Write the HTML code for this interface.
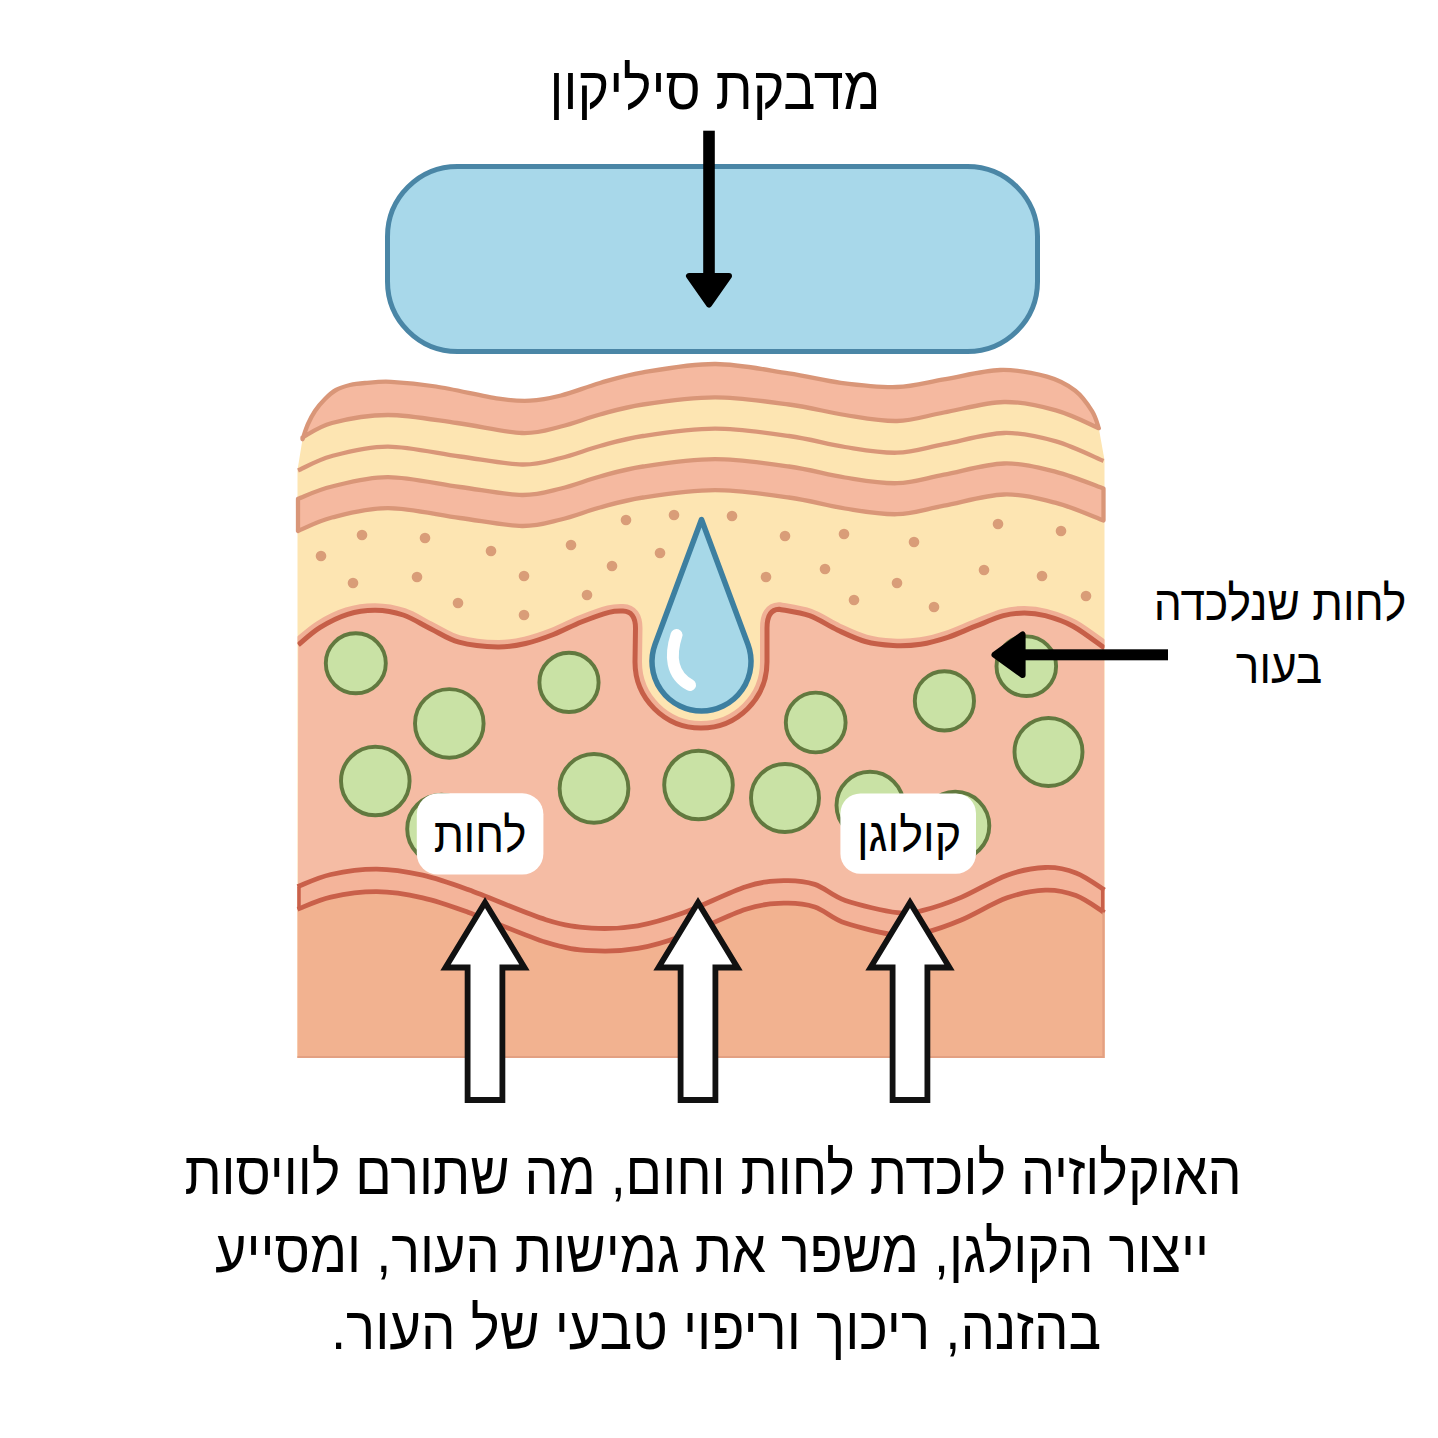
<!DOCTYPE html>
<html><head><meta charset="utf-8"><style>
html,body{margin:0;padding:0;background:#fff;width:1438px;height:1438px;overflow:hidden}
body{position:relative;font-family:"Liberation Sans",sans-serif;color:#000}
div{white-space:nowrap}
</style></head><body>
<svg width="1438" height="1438" viewBox="0 0 1438 1438" style="position:absolute;left:0;top:0"><defs><clipPath id="blk"><rect x="297.5" y="300" width="807.0" height="758"/></clipPath></defs>
<path d="M302.5,439.3 C303.4,436.8 305.9,428.7 308.0,424.0 C310.1,419.3 312.2,415.2 315.0,411.0 C317.8,406.8 321.5,402.5 325.0,399.0 C328.5,395.5 331.8,392.3 336.0,390.0 C340.2,387.7 345.2,386.2 350.0,385.0 C354.8,383.8 358.2,383.5 365.0,383.0 C371.8,382.5 379.2,381.2 391.0,381.8 C402.8,382.4 418.1,383.7 436.0,386.5 C453.9,389.3 482.9,396.2 498.6,398.6 C514.3,401.0 519.6,401.2 530.0,400.7 C540.4,400.2 549.3,398.4 561.0,395.5 C572.7,392.6 586.3,386.9 600.0,383.0 C613.7,379.1 623.7,375.5 643.0,372.3 C662.3,369.1 691.3,363.8 715.6,364.0 C739.9,364.2 767.7,370.3 788.6,373.4 C809.5,376.5 822.7,380.5 840.8,382.8 C858.9,385.1 879.8,387.6 897.0,387.0 C914.2,386.4 926.7,382.2 943.9,379.4 C961.1,376.6 983.0,370.5 1000.2,370.0 C1017.4,369.5 1034.5,373.2 1047.0,376.6 C1059.5,380.1 1067.8,384.9 1075.3,390.7 C1082.8,396.5 1088.3,405.1 1092.2,411.3 C1096.1,417.6 1097.7,425.4 1098.8,428.2 L1104.5,460 L1104.5,1058 L297.5,1058 L297.5,470 Z" fill="#fde5b2"/>
<path d="M302.5,439.3 C303.4,436.8 305.9,428.7 308.0,424.0 C310.1,419.3 312.2,415.2 315.0,411.0 C317.8,406.8 321.5,402.5 325.0,399.0 C328.5,395.5 331.8,392.3 336.0,390.0 C340.2,387.7 345.2,386.2 350.0,385.0 C354.8,383.8 358.2,383.5 365.0,383.0 C371.8,382.5 379.2,381.2 391.0,381.8 C402.8,382.4 418.1,383.7 436.0,386.5 C453.9,389.3 482.9,396.2 498.6,398.6 C514.3,401.0 519.6,401.2 530.0,400.7 C540.4,400.2 549.3,398.4 561.0,395.5 C572.7,392.6 586.3,386.9 600.0,383.0 C613.7,379.1 623.7,375.5 643.0,372.3 C662.3,369.1 691.3,363.8 715.6,364.0 C739.9,364.2 767.7,370.3 788.6,373.4 C809.5,376.5 822.7,380.5 840.8,382.8 C858.9,385.1 879.8,387.6 897.0,387.0 C914.2,386.4 926.7,382.2 943.9,379.4 C961.1,376.6 983.0,370.5 1000.2,370.0 C1017.4,369.5 1034.5,373.2 1047.0,376.6 C1059.5,380.1 1067.8,384.9 1075.3,390.7 C1082.8,396.5 1088.3,405.1 1092.2,411.3 C1096.1,417.6 1097.7,425.4 1098.8,428.2 C1091.7,425.2 1071.8,414.8 1056.0,410.4 C1040.2,406.0 1022.7,401.6 1004.0,402.0 C985.3,402.4 961.8,409.3 944.0,412.5 C926.2,415.7 913.5,420.6 897.0,421.0 C880.5,421.4 863.0,417.8 845.0,415.0 C827.0,412.2 810.7,407.4 789.0,404.5 C767.3,401.6 739.3,397.4 715.0,397.4 C690.7,397.4 662.2,401.6 643.0,404.5 C623.8,407.4 613.7,410.8 600.0,414.5 C586.3,418.2 574.0,423.4 561.0,426.5 C548.0,429.6 539.3,433.6 522.0,433.0 C504.7,432.4 479.3,426.0 457.0,423.0 C434.7,420.0 408.8,415.0 388.0,415.0 C367.2,415.0 346.2,419.2 332.0,423.0 C317.8,426.8 307.4,435.1 302.5,437.5 Z" fill="#f5b9a0" stroke="#d99678" stroke-width="4.3" stroke-linejoin="round"/>
<path d="M298.0,470.5 C303.7,468.1 317.0,460.0 332.0,456.0 C347.0,452.0 366.7,446.5 388.0,446.6 C409.3,446.7 437.7,453.5 460.0,456.5 C482.3,459.5 505.2,464.2 522.0,464.5 C538.8,464.8 548.0,461.1 561.0,458.0 C574.0,454.9 586.3,449.7 600.0,446.0 C613.7,442.3 623.8,438.9 643.0,436.0 C662.2,433.1 690.7,428.7 715.0,428.7 C739.3,428.7 767.3,432.9 789.0,436.0 C810.7,439.1 827.0,444.2 845.0,447.0 C863.0,449.8 880.5,453.2 897.0,452.7 C913.5,452.2 926.2,447.5 944.0,444.2 C961.8,440.9 985.3,433.5 1004.0,433.0 C1022.7,432.5 1039.4,436.7 1056.0,441.4 C1072.6,446.1 1095.6,457.7 1103.5,461.0" fill="none" stroke="#d99678" stroke-width="4.3"/>
<path d="M298.0,498.7 C303.7,496.7 317.0,490.1 332.0,486.5 C347.0,482.9 366.7,477.0 388.0,477.1 C409.3,477.2 437.7,484.0 460.0,487.0 C482.3,490.0 505.2,494.8 522.0,495.0 C538.8,495.2 548.0,491.6 561.0,488.5 C574.0,485.4 586.3,480.2 600.0,476.5 C613.7,472.8 623.8,469.4 643.0,466.5 C662.2,463.6 690.7,459.2 715.0,459.2 C739.3,459.2 767.3,463.4 789.0,466.5 C810.7,469.6 827.0,474.7 845.0,477.5 C863.0,480.3 880.5,483.7 897.0,483.2 C913.5,482.7 926.2,478.0 944.0,474.7 C961.8,471.4 985.3,464.0 1004.0,463.5 C1022.7,463.0 1039.4,467.7 1056.0,471.9 C1072.6,476.1 1095.6,485.7 1103.5,488.5 L1103.5,520.5 C1095.6,517.6 1072.6,507.2 1056.0,502.9 C1039.4,498.6 1022.7,494.0 1004.0,494.5 C985.3,495.0 961.8,502.4 944.0,505.7 C926.2,509.0 913.5,513.7 897.0,514.2 C880.5,514.7 863.0,511.3 845.0,508.5 C827.0,505.7 810.7,500.6 789.0,497.5 C767.3,494.4 739.3,490.2 715.0,490.2 C690.7,490.2 662.2,494.6 643.0,497.5 C623.8,500.4 613.7,503.8 600.0,507.5 C586.3,511.2 574.0,516.4 561.0,519.5 C548.0,522.6 538.8,526.2 522.0,526.0 C505.2,525.8 482.3,521.0 460.0,518.0 C437.7,515.0 409.3,508.2 388.0,508.1 C366.7,508.0 347.0,513.7 332.0,517.5 C317.0,521.3 303.7,528.8 298.0,531.0 Z" fill="#f5b9a0" stroke="#d99678" stroke-width="4.3" stroke-linejoin="round"/>
<g fill="#d99d78"><circle cx="362" cy="535" r="5.3"/><circle cx="425" cy="538" r="5.3"/><circle cx="491" cy="551" r="5.3"/><circle cx="571" cy="545" r="5.3"/><circle cx="626" cy="520" r="5.3"/><circle cx="674" cy="515" r="5.3"/><circle cx="732" cy="516" r="5.3"/><circle cx="785" cy="536" r="5.3"/><circle cx="844" cy="534" r="5.3"/><circle cx="914" cy="542" r="5.3"/><circle cx="998" cy="524" r="5.3"/><circle cx="1061" cy="531" r="5.3"/><circle cx="321" cy="556" r="5.3"/><circle cx="353" cy="583" r="5.3"/><circle cx="417" cy="577" r="5.3"/><circle cx="458" cy="603" r="5.3"/><circle cx="524" cy="576" r="5.3"/><circle cx="524" cy="615" r="5.3"/><circle cx="612" cy="566" r="5.3"/><circle cx="587" cy="595" r="5.3"/><circle cx="660" cy="553" r="5.3"/><circle cx="766" cy="577" r="5.3"/><circle cx="825" cy="569" r="5.3"/><circle cx="897" cy="583" r="5.3"/><circle cx="984" cy="570" r="5.3"/><circle cx="1042" cy="576" r="5.3"/><circle cx="854" cy="600" r="5.3"/><circle cx="934" cy="607" r="5.3"/><circle cx="1086" cy="596" r="5.3"/></g>
<g clip-path="url(#blk)"><path d="M298.2,644.9 C301.8,642.0 311.6,632.7 319.8,627.6 C328.0,622.5 338.3,617.2 347.6,614.3 C356.9,611.4 366.1,610.1 375.4,610.2 C384.7,610.3 393.9,611.9 403.2,615.0 C412.5,618.1 421.7,624.5 431.0,629.0 C440.3,633.5 447.8,639.2 458.9,642.2 C470.0,645.2 486.7,646.8 497.8,647.0 C508.9,647.2 516.3,645.6 525.6,643.5 C534.9,641.4 544.1,638.1 553.4,634.5 C562.7,630.9 572.0,625.7 581.3,622.0 C590.6,618.3 602.0,614.1 609.0,612.3 C616.0,610.4 620.7,611.1 623.0,610.9 C631,611 635.5,617 635.5,628 L635,662 A66,66 0 0 0 767,662 L767,628 C767,616 771,609.5 779,609.2 C784.1,610.3 799.8,612.2 809.5,615.7 C819.2,619.2 828.1,625.7 837.4,630.0 C846.7,634.3 855.9,638.9 865.2,641.5 C874.5,644.1 883.7,645.0 893.0,645.5 C902.3,646.0 911.7,645.6 920.8,644.2 C929.9,642.8 938.7,640.3 947.8,637.3 C956.9,634.3 966.3,629.8 975.6,626.2 C984.9,622.6 995.3,617.9 1003.4,615.7 C1011.5,613.5 1017.3,613.0 1024.3,613.0 C1031.3,613.0 1037.1,613.5 1045.2,615.7 C1053.3,617.9 1063.1,620.8 1073.0,626.2 C1082.9,631.6 1099.2,644.4 1104.5,648.0" fill="none" stroke="#f0b096" stroke-width="14"/>
<path d="M298.2,644.9 C301.8,642.0 311.6,632.7 319.8,627.6 C328.0,622.5 338.3,617.2 347.6,614.3 C356.9,611.4 366.1,610.1 375.4,610.2 C384.7,610.3 393.9,611.9 403.2,615.0 C412.5,618.1 421.7,624.5 431.0,629.0 C440.3,633.5 447.8,639.2 458.9,642.2 C470.0,645.2 486.7,646.8 497.8,647.0 C508.9,647.2 516.3,645.6 525.6,643.5 C534.9,641.4 544.1,638.1 553.4,634.5 C562.7,630.9 572.0,625.7 581.3,622.0 C590.6,618.3 602.0,614.1 609.0,612.3 C616.0,610.4 620.7,611.1 623.0,610.9 C631,611 635.5,617 635.5,628 L635,662 A66,66 0 0 0 767,662 L767,628 C767,616 771,609.5 779,609.2 C784.1,610.3 799.8,612.2 809.5,615.7 C819.2,619.2 828.1,625.7 837.4,630.0 C846.7,634.3 855.9,638.9 865.2,641.5 C874.5,644.1 883.7,645.0 893.0,645.5 C902.3,646.0 911.7,645.6 920.8,644.2 C929.9,642.8 938.7,640.3 947.8,637.3 C956.9,634.3 966.3,629.8 975.6,626.2 C984.9,622.6 995.3,617.9 1003.4,615.7 C1011.5,613.5 1017.3,613.0 1024.3,613.0 C1031.3,613.0 1037.1,613.5 1045.2,615.7 C1053.3,617.9 1063.1,620.8 1073.0,626.2 C1082.9,631.6 1099.2,644.4 1104.5,648.0 L1104.5,1058 L297.5,1058 Z" fill="#f5bca4"/>
<path d="M298.2,644.9 C301.8,642.0 311.6,632.7 319.8,627.6 C328.0,622.5 338.3,617.2 347.6,614.3 C356.9,611.4 366.1,610.1 375.4,610.2 C384.7,610.3 393.9,611.9 403.2,615.0 C412.5,618.1 421.7,624.5 431.0,629.0 C440.3,633.5 447.8,639.2 458.9,642.2 C470.0,645.2 486.7,646.8 497.8,647.0 C508.9,647.2 516.3,645.6 525.6,643.5 C534.9,641.4 544.1,638.1 553.4,634.5 C562.7,630.9 572.0,625.7 581.3,622.0 C590.6,618.3 602.0,614.1 609.0,612.3 C616.0,610.4 620.7,611.1 623.0,610.9 C631,611 635.5,617 635.5,628 L635,662 A66,66 0 0 0 767,662 L767,628 C767,616 771,609.5 779,609.2 C784.1,610.3 799.8,612.2 809.5,615.7 C819.2,619.2 828.1,625.7 837.4,630.0 C846.7,634.3 855.9,638.9 865.2,641.5 C874.5,644.1 883.7,645.0 893.0,645.5 C902.3,646.0 911.7,645.6 920.8,644.2 C929.9,642.8 938.7,640.3 947.8,637.3 C956.9,634.3 966.3,629.8 975.6,626.2 C984.9,622.6 995.3,617.9 1003.4,615.7 C1011.5,613.5 1017.3,613.0 1024.3,613.0 C1031.3,613.0 1037.1,613.5 1045.2,615.7 C1053.3,617.9 1063.1,620.8 1073.0,626.2 C1082.9,631.6 1099.2,644.4 1104.5,648.0" fill="none" stroke="#c65f48" stroke-width="5"/></g>
<g fill="#c9e2a5" stroke="#62793f" stroke-width="3.9"><circle cx="355.8" cy="663.3" r="30"/><circle cx="449.3" cy="723.4" r="34.3"/><circle cx="569" cy="682.4" r="29.6"/><circle cx="375.3" cy="781" r="34.3"/><circle cx="594" cy="788.4" r="34.4"/><circle cx="441.5" cy="829" r="34.3"/><circle cx="698.5" cy="785" r="34.3"/><circle cx="785" cy="798" r="34"/><circle cx="815.7" cy="722.5" r="29.9"/><circle cx="944.4" cy="700.9" r="29.6"/><circle cx="1026.3" cy="666.2" r="29.8"/><circle cx="1048.5" cy="752" r="34"/><circle cx="870" cy="805.2" r="33.5"/><circle cx="955.3" cy="825.8" r="34"/></g>
<path d="M297.5,886.7 C303.1,884.7 317.7,877.4 330.9,874.5 C344.1,871.6 361.5,869.0 376.8,869.1 C392.1,869.2 407.4,871.8 422.7,875.2 C438.0,878.7 448.1,882.4 468.6,889.8 C489.1,897.2 525.4,913.3 545.9,919.7 C566.4,926.1 576.5,927.1 591.8,928.1 C607.1,929.1 622.4,928.3 637.7,925.8 C653.0,923.2 665.6,919.3 683.6,912.8 C701.6,906.3 729.1,892.1 745.9,886.7 C762.6,881.3 772.6,881.0 784.1,880.6 C795.6,880.2 804.6,881.1 814.8,884.4 C825.0,887.7 831.5,895.8 845.3,900.5 C859.1,905.2 884.4,911.1 897.4,912.7 C910.4,914.4 912.4,913.0 923.0,910.4 C933.6,907.8 947.2,903.3 961.2,897.4 C975.2,891.5 993.1,880.2 1007.1,875.2 C1021.1,870.2 1033.8,867.9 1045.3,867.5 C1056.8,867.1 1066.1,869.1 1076.0,872.9 C1085.9,876.6 1099.8,887.1 1104.5,890.0 L1104.5,912.6 C1099.8,909.8 1085.9,899.2 1076.0,895.5 C1066.1,891.8 1056.8,889.7 1045.3,890.1 C1033.8,890.5 1021.1,892.8 1007.1,897.8 C993.1,902.8 975.2,914.1 961.2,920.0 C947.2,925.9 933.6,930.5 923.0,933.0 C912.4,935.5 910.4,937.0 897.4,935.3 C884.4,933.7 859.1,927.8 845.3,923.1 C831.5,918.4 825.0,910.3 814.8,907.0 C804.6,903.7 795.6,902.8 784.1,903.2 C772.6,903.6 762.6,903.9 745.9,909.3 C729.1,914.7 701.6,928.9 683.6,935.4 C665.6,941.9 653.0,945.8 637.7,948.4 C622.4,951.0 607.1,951.7 591.8,950.7 C576.5,949.7 566.4,948.7 545.9,942.3 C525.4,935.9 489.1,919.8 468.6,912.4 C448.1,905.0 438.0,901.2 422.7,897.8 C407.4,894.4 392.1,891.8 376.8,891.7 C361.5,891.6 344.1,894.2 330.9,897.1 C317.7,900.0 303.1,907.3 297.5,909.3 Z" fill="#f4b49a"/>
<path d="M297.5,909.3 C303.1,907.3 317.7,900.0 330.9,897.1 C344.1,894.2 361.5,891.6 376.8,891.7 C392.1,891.8 407.4,894.4 422.7,897.8 C438.0,901.2 448.1,905.0 468.6,912.4 C489.1,919.8 525.4,935.9 545.9,942.3 C566.4,948.7 576.5,949.7 591.8,950.7 C607.1,951.7 622.4,951.0 637.7,948.4 C653.0,945.8 665.6,941.9 683.6,935.4 C701.6,928.9 729.1,914.7 745.9,909.3 C762.6,903.9 772.6,903.6 784.1,903.2 C795.6,902.8 804.6,903.7 814.8,907.0 C825.0,910.3 831.5,918.4 845.3,923.1 C859.1,927.8 884.4,933.7 897.4,935.3 C910.4,937.0 912.4,935.5 923.0,933.0 C933.6,930.5 947.2,925.9 961.2,920.0 C975.2,914.1 993.1,902.8 1007.1,897.8 C1021.1,892.8 1033.8,890.5 1045.3,890.1 C1056.8,889.7 1066.1,891.8 1076.0,895.5 C1085.9,899.2 1099.8,909.8 1104.5,912.6 L1104.5,1058 L297.5,1058 Z" fill="#f2b290"/>
<path d="M297.5,886.7 C303.1,884.7 317.7,877.4 330.9,874.5 C344.1,871.6 361.5,869.0 376.8,869.1 C392.1,869.2 407.4,871.8 422.7,875.2 C438.0,878.7 448.1,882.4 468.6,889.8 C489.1,897.2 525.4,913.3 545.9,919.7 C566.4,926.1 576.5,927.1 591.8,928.1 C607.1,929.1 622.4,928.3 637.7,925.8 C653.0,923.2 665.6,919.3 683.6,912.8 C701.6,906.3 729.1,892.1 745.9,886.7 C762.6,881.3 772.6,881.0 784.1,880.6 C795.6,880.2 804.6,881.1 814.8,884.4 C825.0,887.7 831.5,895.8 845.3,900.5 C859.1,905.2 884.4,911.1 897.4,912.7 C910.4,914.4 912.4,913.0 923.0,910.4 C933.6,907.8 947.2,903.3 961.2,897.4 C975.2,891.5 993.1,880.2 1007.1,875.2 C1021.1,870.2 1033.8,867.9 1045.3,867.5 C1056.8,867.1 1066.1,869.1 1076.0,872.9 C1085.9,876.6 1099.8,887.1 1104.5,890.0" fill="none" stroke="#c9604a" stroke-width="4.8"/>
<path d="M297.5,909.3 C303.1,907.3 317.7,900.0 330.9,897.1 C344.1,894.2 361.5,891.6 376.8,891.7 C392.1,891.8 407.4,894.4 422.7,897.8 C438.0,901.2 448.1,905.0 468.6,912.4 C489.1,919.8 525.4,935.9 545.9,942.3 C566.4,948.7 576.5,949.7 591.8,950.7 C607.1,951.7 622.4,951.0 637.7,948.4 C653.0,945.8 665.6,941.9 683.6,935.4 C701.6,928.9 729.1,914.7 745.9,909.3 C762.6,903.9 772.6,903.6 784.1,903.2 C795.6,902.8 804.6,903.7 814.8,907.0 C825.0,910.3 831.5,918.4 845.3,923.1 C859.1,927.8 884.4,933.7 897.4,935.3 C910.4,937.0 912.4,935.5 923.0,933.0 C933.6,930.5 947.2,925.9 961.2,920.0 C975.2,914.1 993.1,902.8 1007.1,897.8 C1021.1,892.8 1033.8,890.5 1045.3,890.1 C1056.8,889.7 1066.1,891.8 1076.0,895.5 C1085.9,899.2 1099.8,909.8 1104.5,912.6" fill="none" stroke="#c9604a" stroke-width="4.8"/>
<line x1="299.0" y1="886.7" x2="299.0" y2="909.3000000000001" stroke="#c9604a" stroke-width="3.5"/>
<line x1="1102.7" y1="890" x2="1102.7" y2="912.6" stroke="#c9604a" stroke-width="3.5"/>
<path d="M1103.5,912.6 L1103.5,1057 L297.5,1057" fill="none" stroke="#e3a082" stroke-width="2.2"/>
<path d="M701.5,519.5 L655.10,644.24 A49.5,49.5 0 1 0 747.90,644.24 Z" fill="#a7d8e8" stroke="#3d7fa0" stroke-width="5.5" stroke-linejoin="round"/>
<path d="M676.5,635 C670,655 671,675 690,685" fill="none" stroke="#ffffff" stroke-width="12" stroke-linecap="round"/>
<rect x="416.8" y="793.3" width="126.6" height="81.3" rx="21" fill="#fff"/>
<rect x="840.4" y="793.4" width="135.6" height="80.4" rx="20" fill="#fff"/>
<rect x="387.5" y="166.5" width="650" height="185" rx="70" fill="#a8d8ea" stroke="#4a86a6" stroke-width="5"/>
<rect x="703.2" y="130.7" width="11.6" height="150" fill="#000"/>
<polygon points="689,276 729,276 709,304.5" fill="#000" stroke="#000" stroke-width="6" stroke-linejoin="round"/>
<rect x="1020" y="649.3" width="148" height="11" fill="#000"/>
<polygon points="994.5,654.8 1022.6,634.5 1022.6,675" fill="#000" stroke="#000" stroke-width="6" stroke-linejoin="round"/>
<polygon points="485.0,902.5 524.5,967.5 502.4,967.5 502.4,1100.0 467.6,1100.0 467.6,967.5 445.5,967.5" fill="#fff" stroke="#111" stroke-width="5.8" stroke-linejoin="miter"/>
<polygon points="698.0,902.5 737.5,967.5 715.4,967.5 715.4,1100.0 680.6,1100.0 680.6,967.5 658.5,967.5" fill="#fff" stroke="#111" stroke-width="5.8" stroke-linejoin="miter"/>
<polygon points="910.0,902.5 949.5,967.5 927.4,967.5 927.4,1100.0 892.6,1100.0 892.6,967.5 870.5,967.5" fill="#fff" stroke="#111" stroke-width="5.8" stroke-linejoin="miter"/></svg>
<div dir="rtl" style="position:absolute;left:14.5px;top:59.2px;width:1400px;text-align:center;font-size:60px;line-height:60px;transform:scaleX(0.8946);transform-origin:700.0px 0">מדבקת סיליקון</div><div dir="rtl" style="position:absolute;left:12.5px;top:1143.7px;width:1400px;text-align:center;font-size:60px;line-height:60px;transform:scaleX(0.8978);transform-origin:700.0px 0">האוקלוזיה לוכדת לחות וחום, מה שתורם לוויסות</div><div dir="rtl" style="position:absolute;left:12.0px;top:1221.7px;width:1400px;text-align:center;font-size:60px;line-height:60px;transform:scaleX(0.9008);transform-origin:700.0px 0">ייצור הקולגן, משפר את גמישות העור, ומסייע</div><div dir="rtl" style="position:absolute;left:15.5px;top:1299.2px;width:1400px;text-align:center;font-size:60px;line-height:60px;transform:scaleX(0.9090);transform-origin:700.0px 0">בהזנה, ריכוך וריפוי טבעי של העור.</div><div dir="rtl" style="position:absolute;left:579.8px;top:578.5px;width:1400px;text-align:center;font-size:49px;line-height:49px;transform:scaleX(0.9066);transform-origin:700.0px 0">לחות שנלכדה</div><div dir="rtl" style="position:absolute;left:579.0px;top:641.5px;width:1400px;text-align:center;font-size:49px;line-height:49px;transform:scaleX(0.9016);transform-origin:700.0px 0">בעור</div><div dir="rtl" style="position:absolute;left:-220.5px;top:811.9px;width:1400px;text-align:center;font-size:48px;line-height:48px;transform:scaleX(0.9113);transform-origin:700.0px 0">לחות</div><div dir="rtl" style="position:absolute;left:209.2px;top:810.6px;width:1400px;text-align:center;font-size:47px;line-height:47px;transform:scaleX(0.9550);transform-origin:700.0px 0">קולוגן</div>
</body></html>
